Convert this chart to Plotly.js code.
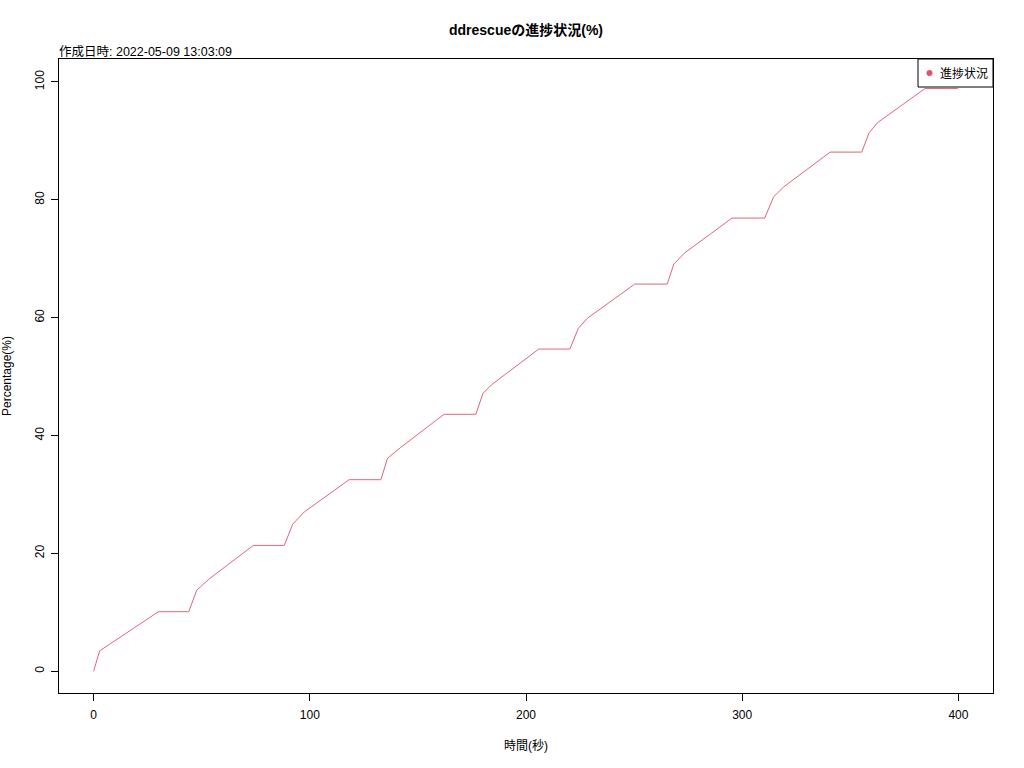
<!DOCTYPE html>
<html>
<head>
<meta charset="utf-8">
<script src="https://cdn.plot.ly/plotly-3.0.1.min.js"></script>
<style>html,body{margin:0;padding:0;background:#fff;}#chart{width:1024px;height:768px;}</style>
</head>
<body>
<div id="chart"></div>
<script>
// elapsed time (seconds)
const timeSec = [0, 2.8, 30, 44, 47.7, 53.6, 73.9, 88.2, 92.1, 97.5, 118.2, 132.9, 135.9, 142.1, 162.1,
  176.8, 180.1, 184.0, 205.9, 220.3, 224.2, 228.3, 250.3, 265.3, 268.4, 273.4, 295.3, 310.4, 314.5,
  319.2, 340.7, 355.3, 358.7, 362.6, 384.6, 399.7];
// progress (%)
const percent = [0, 3.45, 10.1, 10.1, 13.75, 15.7, 21.35, 21.35, 24.96, 27.05, 32.5, 32.5, 36.1, 38.0, 43.6,
  43.6, 47.15, 48.6, 54.67, 54.67, 58.18, 59.88, 65.7, 65.7, 69.1, 71.0, 76.9, 76.9, 80.5,
  82.2, 88.1, 88.1, 91.4, 93.1, 98.9, 98.9];
const xTicks = [0, 100, 200, 300, 400];
const yTicks = [0, 20, 40, 60, 80, 100];
const seriesName = "進捗状況";
const titleText = "ddrescueの進捗状況(%)";
const subtitleText = "作成日時: 2022-05-09 13:03:09";
const xTitle = "時間(秒)";
const yTitle = "Percentage(%)";

const FONT = "Liberation Sans, Arial, 'Noto Sans CJK JP', sans-serif";
const RED = "#DF536B";

// plot area in pixels
const PL = 59, PR = 993, PT = 59, PB = 693;
const PW = PR - PL, PH = PB - PT;
const px2x = p => (p - PL) / PW;
const px2y = p => (PB - p) / PH;

const traces = [
  {x: timeSec, y: percent, type: "scatter", mode: "lines", name: seriesName, line: {color: RED, width: 1}, opacity: 0.9, showlegend: false, hoverinfo: "skip"}
];

const axisCommon = {
  showgrid: false, zeroline: false, showline: true, mirror: true, linecolor: "#000", linewidth: 1,
  ticks: "outside", ticklen: 7, tickcolor: "#000", tickwidth: 1, tickfont: {family: FONT, size: 12, color: "#000"},
  automargin: false
};

const layout = {
  width: 1024, height: 768,
  margin: {l: PL, r: 1024 - PR, t: PT, b: 768 - PB, pad: 0},
  paper_bgcolor: "#fff", plot_bgcolor: "#fff",
  font: {family: FONT, color: "#000"},
  title: {text: "<b>" + titleText + "</b>", font: {family: FONT, size: 14, color: "#000"}, x: 0.5, xref: "paper", y: 1 - 30/768, yanchor: "middle"},
  xaxis: Object.assign({}, axisCommon, {range: [-16, 416], tickmode: "array", tickvals: xTicks, ticktext: xTicks.map(String),
    ticklabelstandoff: 4,
    title: {text: xTitle, font: {family: FONT, size: 12, color: "#000"}, standoff: 20}}),
  yaxis: Object.assign({}, axisCommon, {range: [-3.7, 103.9], tickmode: "array", tickvals: yTicks, ticktext: yTicks.map(String), tickangle: -90,
    ticklabelstandoff: 2,
    title: {text: yTitle, font: {family: FONT, size: 12, color: "#000"}, standoff: 20}}),
  showlegend: false,
  shapes: [
    {type: "rect", xref: "paper", yref: "paper", x0: px2x(918), x1: 1, y0: px2y(87), y1: 1,
     line: {color: "#000", width: 1}, fillcolor: "#fff", layer: "above"},
    {type: "circle", xref: "paper", yref: "paper", xsizemode: "pixel", ysizemode: "pixel",
     xanchor: px2x(929.5), yanchor: px2y(73), x0: -3, x1: 3, y0: -3, y1: 3,
     line: {color: RED, width: 0}, fillcolor: RED, layer: "above"}
  ],
  annotations: [
    {text: subtitleText, xref: "paper", yref: "paper", x: 0, y: 1, xanchor: "left", yanchor: "bottom", showarrow: false,
     xshift: -2, yshift: -2, font: {family: FONT, size: 12.5, color: "#000"}},
    {text: seriesName, xref: "paper", yref: "paper", x: px2x(939), y: px2y(73), xanchor: "left", yanchor: "middle", showarrow: false,
     xshift: -1, yshift: -1, font: {family: FONT, size: 12, color: "#000"}}
  ]
};

Plotly.newPlot("chart", traces, layout, {displayModeBar: false, staticPlot: true});
</script>
</body>
</html>
